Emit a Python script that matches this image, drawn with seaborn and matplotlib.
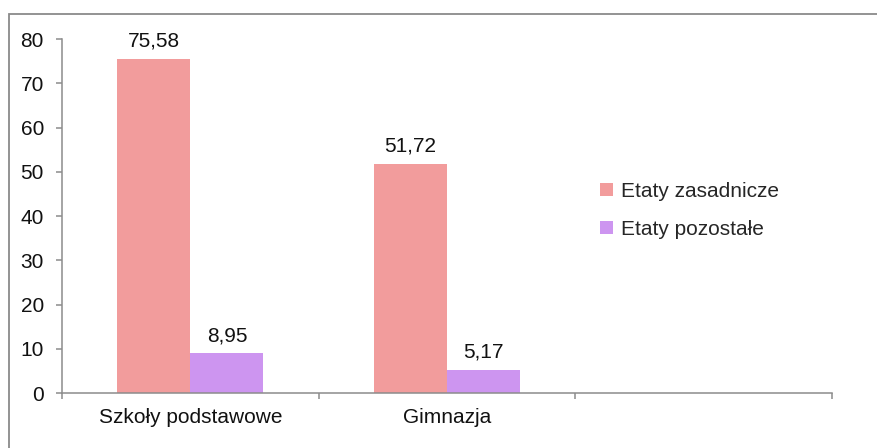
import matplotlib
matplotlib.use("Agg")
import matplotlib.pyplot as plt
from matplotlib.patches import Rectangle
import seaborn as sns
import pandas as pd

categories = ["Szkoły podstawowe", "Gimnazja"]
series_names = ["Etaty zasadnicze", "Etaty pozostałe"]
etaty_zasadnicze = [75.58, 51.72]
etaty_pozostale = [8.95, 5.17]
y_ticks = [0, 10, 20, 30, 40, 50, 60, 70, 80]
colors = ["#F29C9C", "#CD95F0"]

df = pd.DataFrame({
    "kategoria": categories * 2,
    "seria": [series_names[0]] * 2 + [series_names[1]] * 2,
    "wartosc": etaty_zasadnicze + etaty_pozostale,
})

sns.set_theme(style="white")
plt.rcParams["font.family"] = ["Liberation Sans", "DejaVu Sans"]

FS = 15
W, H = 877, 448
fig = plt.figure(figsize=(W / 100, H / 100), dpi=100)
ax = fig.add_axes([62 / W, (H - 393) / H, 770 / W, (393 - 39) / H])

sns.barplot(data=df, x="kategoria", y="wartosc", hue="seria",
            order=categories, hue_order=series_names, palette=colors,
            width=0.57, saturation=1, ax=ax, errorbar=None, linewidth=0)

for cont in ax.containers:
    ax.bar_label(cont, labels=[f"{v:.2f}".replace(".", ",") for v in cont.datavalues],
                 padding=6, fontsize=FS, color="#111111")

spine_col = "#8c8c8c"
ax.set_xlim(-0.5, 2.5)
ax.set_ylim(0, 80)
ax.set_yticks(y_ticks)
ax.set_xticks([0, 1])
ax.set_xticks([-0.5, 0.5, 1.5, 2.5], minor=True)
ax.tick_params(axis="x", which="major", length=0, pad=11, labelsize=FS, labelcolor="#111111")
ax.tick_params(axis="x", which="minor", length=4, width=1.1, color=spine_col, direction="out", bottom=True)
ax.tick_params(axis="y", which="major", length=4, width=1.1, color=spine_col, left=True, pad=9,
               labelsize=FS, labelcolor="#111111")
ax.set_xlabel("")
ax.set_ylabel("")
for side in ["top", "right"]:
    ax.spines[side].set_visible(False)
for side in ["left", "bottom"]:
    ax.spines[side].set_color(spine_col)
    ax.spines[side].set_linewidth(1.1)

ax.legend(loc="upper left", bbox_to_anchor=(600 / W, (H - 182) / H), bbox_transform=fig.transFigure,
          frameon=False, fontsize=FS, handlelength=0.6, handleheight=0.6,
          handletextpad=0.4, labelspacing=0.9, borderaxespad=0, borderpad=0)

# outer chart frame
fig.patches.append(Rectangle((9 / W, -0.1), 1.0, (H - 14) / H + 0.1, transform=fig.transFigure,
                             fill=False, edgecolor="#8a8a8a", linewidth=1.3))

fig.savefig("out.png", dpi=100)
